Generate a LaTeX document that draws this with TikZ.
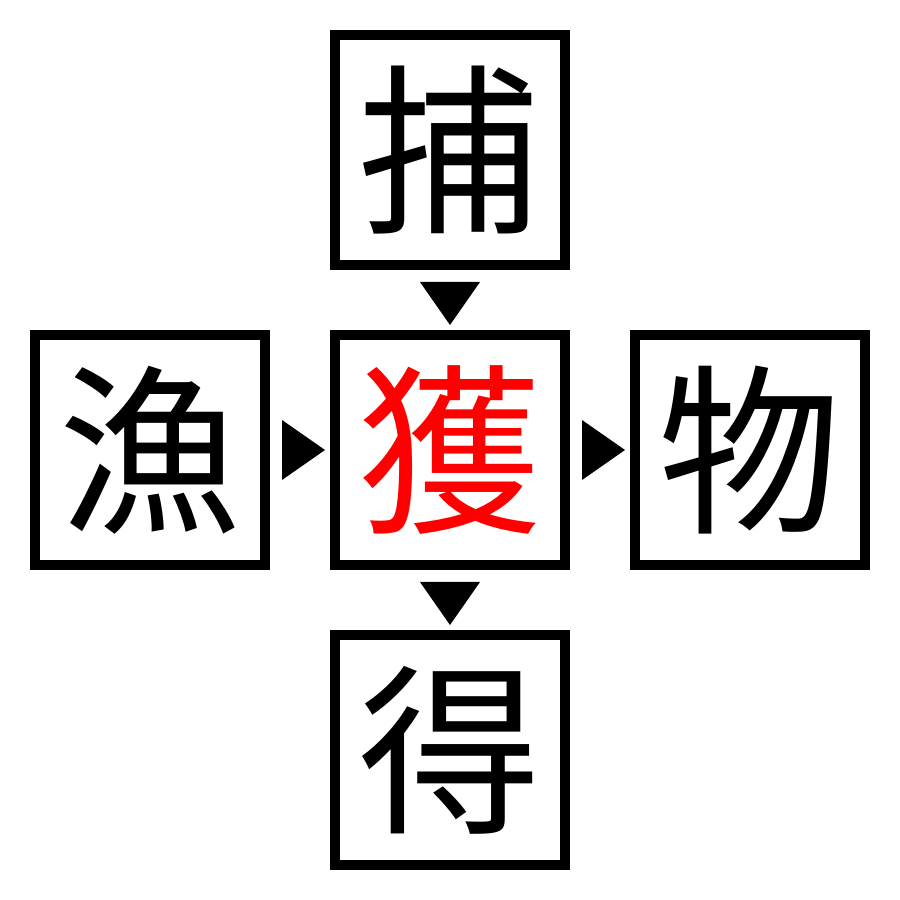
\documentclass[tikz,border=0pt]{standalone}
\usepackage{fontspec}
\usepackage{xcolor}
\usepackage{tikz}
\newfontfamily\cjk{Noto Sans CJK JP}
\definecolor{red}{RGB}{255,0,0}
\usetikzlibrary{calc}

\begin{document}
\begin{tikzpicture}
    \tikzset{
        charbox/.style={draw, line width=0.1cm, minimum size=2.3cm, inner sep=0pt,
            font=\cjk\fontsize{52}{52}\selectfont}
    }
    % Frame
    \useasboundingbox (0,0) rectangle (9,9);

    % Character boxes
    \node[charbox] (top) at (4.5,7.5) {捕};
    \node[charbox] (left) at (1.5,4.5) {漁};
    \node[charbox, text=red] (center) at (4.5,4.5) {獲};
    \node[charbox] (right) at (7.5,4.5) {物};
    \node[charbox] (bottom) at (4.5,1.5) {得};

    % Pointers
    \foreach \a/\b in {left/center, center/right} {
        \fill ($(\a.east)+(0.12,0.3)$) -- ($(\a.east)+(0.12,-0.3)$) -- ($(\b.west)+(-0.05,0)$) -- cycle;
    }
    \foreach \a/\b in {top/center, center/bottom} {
        \fill ($(\a.south)+(-0.3,-0.12)$) -- ($(\a.south)+(0.3,-0.12)$) -- ($(\b.north)+(0,0.05)$) -- cycle;
    }
\end{tikzpicture}
\end{document}
